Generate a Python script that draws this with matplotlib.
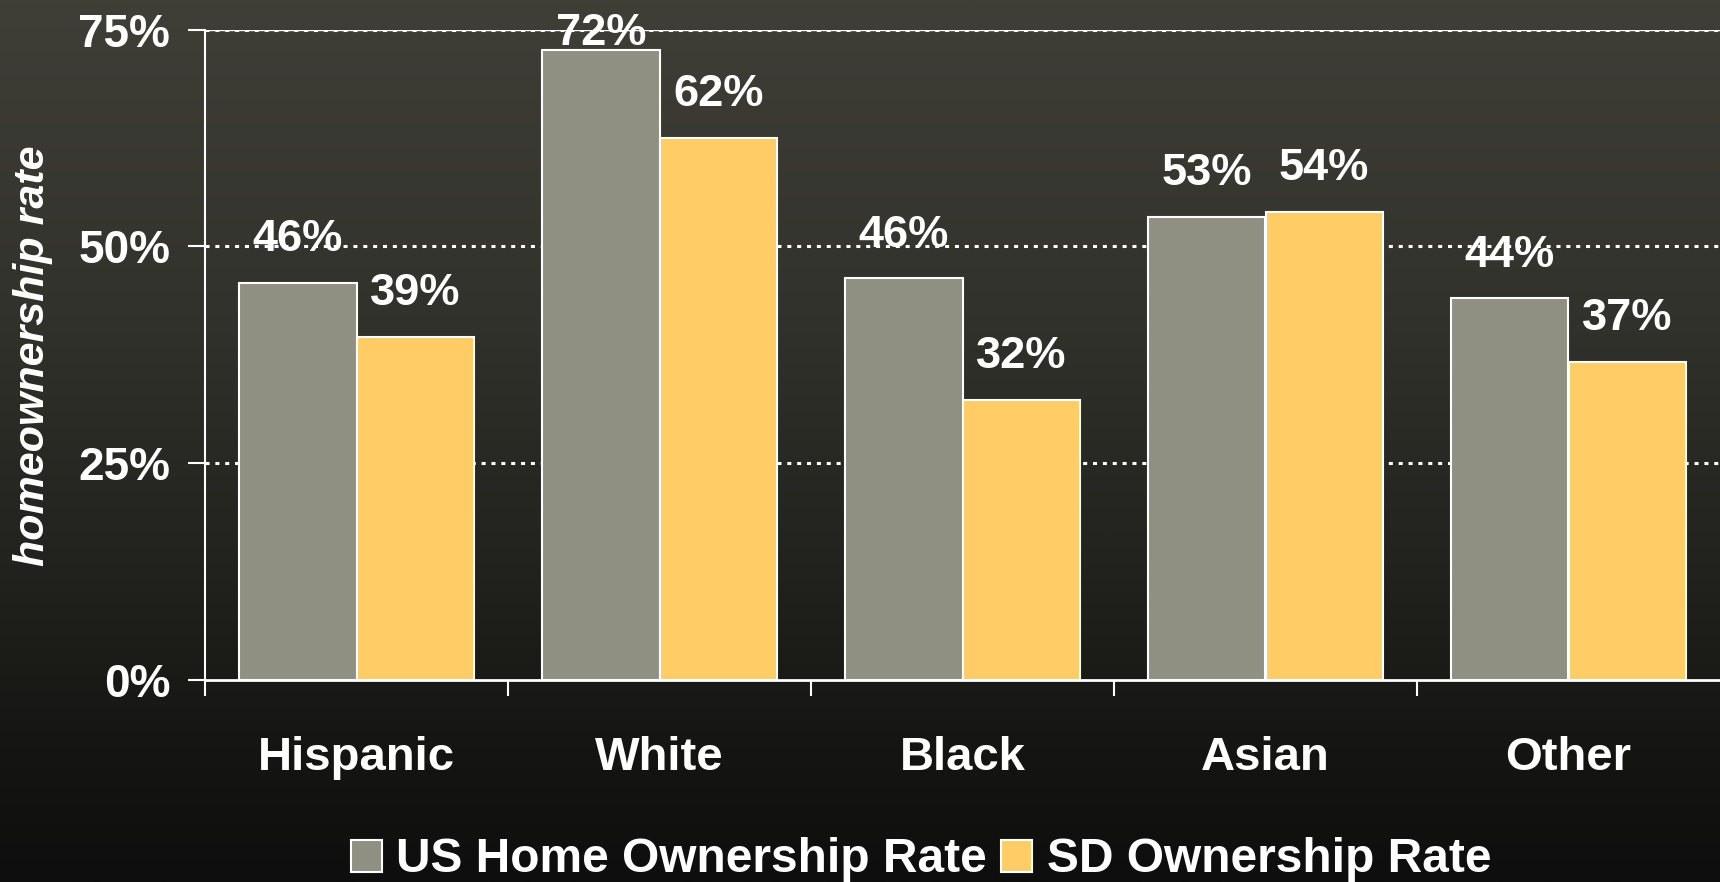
import numpy as np
import matplotlib
matplotlib.use("Agg")
import matplotlib.pyplot as plt
from matplotlib.colors import LinearSegmentedColormap
from matplotlib.patches import Patch

# ---- data ----
categories = ["Hispanic", "White", "Black", "Asian", "Other"]
us_rate = [45.8, 72.6, 46.3, 53.4, 44.0]
sd_rate = [39.6, 62.5, 32.3, 54.0, 36.7]
us_labels = ["46%", "72%", "46%", "53%", "44%"]
sd_labels = ["39%", "62%", "32%", "54%", "37%"]
series_names = ["US Home Ownership Rate", "SD Ownership Rate"]
y_ticks = [0, 25, 50, 75]
y_tick_labels = ["0%", "25%", "50%", "75%"]

plt.rcParams["font.family"] = ["Liberation Sans", "DejaVu Sans"]
plt.rcParams["font.weight"] = "bold"
plt.rcParams["lines.scale_dashes"] = False

W, H = 1720, 882
fig = plt.figure(figsize=(W / 100, H / 100), dpi=100)

# background gradient
bg = fig.add_axes([0, 0, 1, 1], zorder=-10)
cmap = LinearSegmentedColormap.from_list(
    "bg",
    [(0.0, "#3f3f38"), (0.36, "#32322c"), (0.64, "#22221e"), (0.85, "#151513"), (1.0, "#0e0e0e")],
)
grad = np.linspace(0, 1, 512).reshape(-1, 1)
bg.imshow(grad, aspect="auto", cmap=cmap, extent=[0, 1, 0, 1], origin="upper")
bg.set_axis_off()

left, right = 205 / W, 1.0
bottom, top = 1 - 680 / H, 1 - 29.6 / H
ax = fig.add_axes([left, bottom, right - left, top - bottom])
ax.set_facecolor("none")

gray = "#8f8f82"
yellow = "#ffcc66"
bw = 0.387
x = np.arange(len(categories))
ax.bar(x - bw / 2, us_rate, width=bw, color=gray, edgecolor="white", linewidth=1.5, zorder=3)
ax.bar(x + bw / 2, sd_rate, width=bw, color=yellow, edgecolor="white", linewidth=1.5, zorder=3)

ymax = 75
ax.set_ylim(0, ymax)
ax.set_xlim(-0.5, len(categories) - 0.5)

# gridlines
for yv in y_ticks[1:]:
    ax.axhline(yv, color="white", lw=2.2, ls=(0, (2.9, 4.2)), zorder=1)
ax.axhline(ymax, color="white", lw=1.0, zorder=1)

# data labels
off = 5.4
for xs, vals, labs in ((x - bw / 2, us_rate, us_labels), (x + bw / 2, sd_rate, sd_labels)):
    ly = np.minimum(np.array(vals) + off, ymax)
    for xi, yi, lab in zip(xs, ly, labs):
        ax.annotate(lab, (xi, yi), xytext=(0, -2.5), textcoords="offset points",
                    ha="center", va="center", color="white",
                    fontsize=32.5, fontweight="bold", zorder=5)

# axes styling
for s in ["top", "right"]:
    ax.spines[s].set_visible(False)
ax.spines["left"].set_color("white")
ax.spines["left"].set_linewidth(1.5)
ax.spines["bottom"].set_color("white")
ax.spines["bottom"].set_linewidth(2)
ax.spines["left"].set_zorder(4)
ax.spines["bottom"].set_zorder(4)

ax.set_yticks(y_ticks)
ax.set_yticklabels(y_tick_labels)
ax.tick_params(axis="y", colors="white", length=12, width=1.5, pad=13, labelsize=33)
for t in ax.get_yticklabels():
    t.set_fontweight("bold")

ax.set_xticks(np.arange(len(categories)) - 0.5)
ax.set_xticklabels([])
ax.tick_params(axis="x", which="major", colors="white", length=11.5, width=1.5)
ax.set_xticks(x, minor=True)
ax.set_xticklabels(categories, minor=True)
ax.tick_params(axis="x", which="minor", length=0, pad=40, labelsize=34, labelcolor="white")
for t in ax.get_xticklabels(minor=True):
    t.set_fontweight("bold")

fig.text(33 / W, 1 - 356 / H, "homeownership rate", rotation=90, ha="center", va="center",
         color="white", fontsize=31, fontweight="bold", fontstyle="italic")

handles = [Patch(facecolor=gray, edgecolor="white", linewidth=1.5),
           Patch(facecolor=yellow, edgecolor="white", linewidth=1.5)]
leg = fig.legend(handles, series_names, loc="center", bbox_to_anchor=(921 / W, 1 - 860 / H),
                 ncol=2, frameon=False, fontsize=34.5, handlelength=0.65, handleheight=0.65,
                 handletextpad=0.3, columnspacing=0.3, borderaxespad=0, borderpad=0)
for t in leg.get_texts():
    t.set_color("white")
    t.set_fontweight("bold")

fig.savefig("out.png", dpi=100)
